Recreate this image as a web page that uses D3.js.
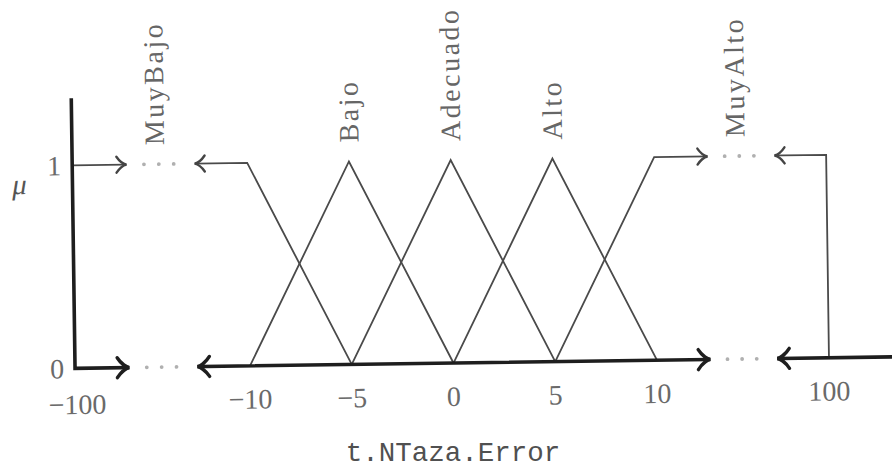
<!DOCTYPE html>
<html>
<head>
<meta charset="utf-8">
<script src="https://cdn.jsdelivr.net/npm/d3@7"></script>
<style>
  body { margin: 0; background: #fff; }
</style>
</head>
<body>
<svg width="892" height="468"></svg>
<script>
  // conjuntos difusos de t.NTaza.Error
  const conjuntos = ["MuyBajo", "Bajo", "Adecuado", "Alto", "MuyAlto"];
  const puntosX = [
    [-100, -10, -5],
    [-10, -5, 0],
    [-5, 0, 5],
    [0, 5, 10],
    [5, 10, 100, 100]
  ];
  const puntosMu = [
    [1, 1, 0],
    [0, 1, 0],
    [0, 1, 0],
    [0, 1, 0],
    [0, 1, 1, 0]
  ];
  const ticksX = [-100, -10, -5, 0, 5, 10, 100];
  const ticksMu = [0, 1];
  const etiquetaX = "t.NTaza.Error";
  const etiquetaY = "\u03bc";

  const svg = d3.select("svg");

  // eje x partido: -100 .. -10 | -10 .. 10 | 10 .. 100 y un poco más
  const xFin = 135;
  const x = d3.scaleLinear()
    .domain([-100, -10, 10, 100, xFin])
    .range([75, 250, 657, 829, 829 + (xFin - 100) * (829 - 657) / 90]);
  const y = d3.scaleLinear().domain([0, 1]).range([363, 160]);
  const muTope = 1.33;

  // zonas de corte (los "..." entre flechas)
  const cortes = [[-100, -10], [10, 100]].map(([a, b]) => {
    const x0 = x(a), x1 = x(b);
    return { ini: x0 + 0.31 * (x1 - x0), fin: x0 + 0.70 * (x1 - x0), w: x1 - x0, x0 };
  });

  const g = svg.append("g").attr("transform", "rotate(-0.8, 455, 363)");

  // máscara que oculta las líneas dentro de los cortes
  const mask = svg.append("defs").append("mask").attr("id", "corte")
    .attr("maskUnits", "userSpaceOnUse");
  mask.append("rect").attr("x", -50).attr("y", -50).attr("width", 1000).attr("height", 600).attr("fill", "#fff");
  cortes.forEach(c => {
    mask.append("rect").attr("x", c.ini).attr("y", -50).attr("width", c.fin - c.ini).attr("height", 600).attr("fill", "#000");
  });

  const lineas = g.append("g").attr("mask", "url(#corte)");

  const line = d3.line().x(d => x(d[0])).y(d => y(d[1]));

  // funciones de pertenencia
  lineas.selectAll("path.mf")
    .data(conjuntos.map((c, i) => puntosX[i].map((v, j) => [v, puntosMu[i][j]])))
    .enter()
    .append("path")
    .attr("class", "mf")
    .attr("d", line)
    .attr("fill", "none")
    .attr("stroke", "#4a4a4a")
    .attr("stroke-width", 1.8)
    .attr("stroke-linejoin", "miter");

  // ejes
  lineas.append("path")
    .attr("d", line([[-100, muTope], [-100, 0], [xFin, 0]]))
    .attr("fill", "none")
    .attr("stroke", "#1e1e1e")
    .attr("stroke-width", 3.6)
    .attr("stroke-linejoin", "miter");

  // flechas y puntos en los cortes
  const punta = (L, W) => `M${-L},${-W} C${-L * 0.65},${-W * 0.35} ${-L * 0.2},${-W * 0.05} 0,0 C${-L * 0.2},${W * 0.05} ${-L * 0.65},${W * 0.35} ${-L},${W}`;
  [[0, "#1e1e1e", 3.4, 12, 10], [1, "#444", 2.4, 10, 8]].forEach(([mu, col, sw, L, W]) => {
    cortes.forEach(c => {
      g.append("path").attr("d", punta(L, W))
        .attr("transform", `translate(${c.ini},${y(mu)})`)
        .attr("fill", "none").attr("stroke", col).attr("stroke-width", sw).attr("stroke-linecap", "round");
      g.append("path").attr("d", punta(L, W))
        .attr("transform", `translate(${c.fin},${y(mu)}) scale(-1,1)`)
        .attr("fill", "none").attr("stroke", col).attr("stroke-width", sw).attr("stroke-linecap", "round");
      g.selectAll(null).data([0.41, 0.495, 0.58]).enter().append("circle")
        .attr("cx", f => c.x0 + f * c.w).attr("cy", y(mu)).attr("r", 1.9).attr("fill", "#b0b0b0");
    });
  });

  const serif = "'Liberation Serif', 'DejaVu Serif', serif";

  // etiquetas de los ticks
  g.selectAll("text.tx").data(ticksX).enter().append("text")
    .attr("class", "tx")
    .attr("x", d => d === -100 ? x(d) + 2 : x(d))
    .attr("y", d => d === -100 ? y(0) + 36 : y(0) + 33)
    .attr("dy", "0.35em")
    .attr("text-anchor", "middle")
    .attr("font-family", serif).attr("font-size", 28).attr("fill", "#6a6a6a")
    .text(d => d < 0 ? "\u2212" + Math.abs(d) : d);

  g.selectAll("text.ty").data(ticksMu).enter().append("text")
    .attr("class", "ty")
    .attr("x", x(-100) - 11)
    .attr("y", d => y(d))
    .attr("dy", "0.35em")
    .attr("text-anchor", "end")
    .attr("font-family", serif).attr("font-size", 28).attr("fill", "#6a6a6a")
    .text(d => d);

  g.append("text")
    .attr("x", 22).attr("y", y(1) + 18).attr("dy", "0.35em")
    .attr("text-anchor", "middle")
    .attr("font-family", serif).attr("font-style", "italic").attr("font-size", 29).attr("fill", "#555")
    .text(etiquetaY);

  // nombres de los conjuntos, en vertical
  const posNombre = (c, i) => {
    if (i === 0) return cortes[0].x0 + 0.47 * cortes[0].w;
    if (i === conjuntos.length - 1) return cortes[1].x0 + 0.47 * cortes[1].w;
    return x(puntosX[i][1]);
  };
  g.selectAll("text.nom").data(conjuntos).enter().append("text")
    .attr("class", "nom")
    .attr("transform", (c, i) => `translate(${posNombre(c, i)},${y(1) - 19}) rotate(-90)`)
    .attr("dy", "0.35em")
    .attr("text-anchor", "start")
    .attr("font-family", serif).attr("font-size", 28).attr("letter-spacing", 2.5).attr("fill", "#666")
    .text(d => d);

  // título del eje x
  svg.append("text")
    .attr("x", 453).attr("y", 451).attr("dy", "0.35em")
    .attr("text-anchor", "middle")
    .attr("font-family", "'Liberation Mono', 'DejaVu Sans Mono', monospace")
    .attr("font-size", 27.5).attr("fill", "#505050")
    .text(etiquetaX);
</script>
</body>
</html>
